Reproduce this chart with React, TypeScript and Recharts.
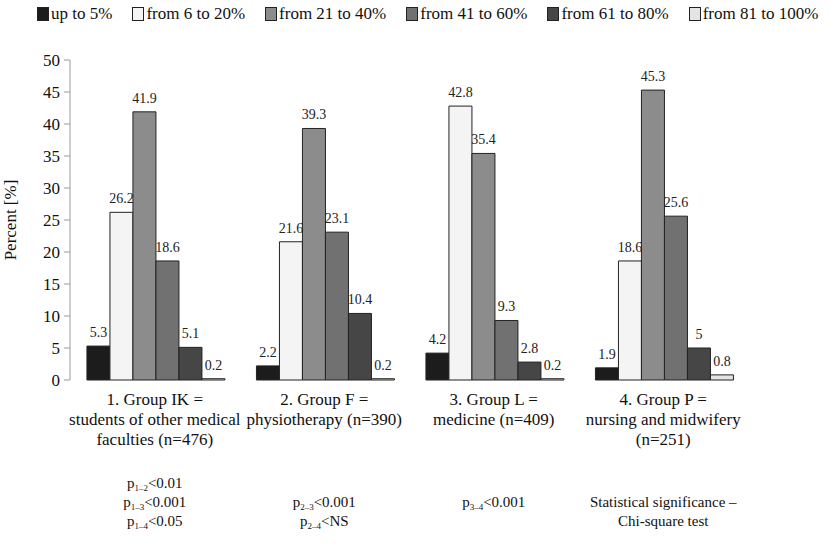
import React from "react";
import { BarChart, Bar, XAxis, YAxis, LabelList } from "recharts";

const groups = ["IK", "F", "L", "P"];

const upTo5 = [5.3, 2.2, 4.2, 1.9];
const from6to20 = [26.2, 21.6, 42.8, 18.6];
const from21to40 = [41.9, 39.3, 35.4, 45.3];
const from41to60 = [18.6, 23.1, 9.3, 25.6];
const from61to80 = [5.1, 10.4, 2.8, 5];
const from81to100 = [0.2, 0.2, 0.2, 0.8];

const yTicks = [0, 5, 10, 15, 20, 25, 30, 35, 40, 45, 50];

const groupLabels = [
  ["1. Group IK =", "students of other medical", "faculties (n=476)"],
  ["2. Group F =", "physiotherapy (n=390)"],
  ["3. Group L =", "medicine (n=409)"],
  ["4. Group P =", "nursing and midwifery", "(n=251)"],
];

type Note = { sub?: string; text: string } | null;

const pNotes: Note[][] = [
  [
    { sub: "1–2", text: "<0.01" },
    { sub: "1–3", text: "<0.001" },
    { sub: "1–4", text: "<0.05" },
  ],
  [null, { sub: "2–3", text: "<0.001" }, { sub: "2–4", text: "<NS" }],
  [null, { sub: "3–4", text: "<0.001" }, null],
  [null, { text: "Statistical significance –" }, { text: "Chi-square test" }],
];

const series = [
  { key: "s1", name: "up to 5%", values: upTo5, color: "#1c1c1c" },
  { key: "s2", name: "from 6 to 20%", values: from6to20, color: "#f4f4f4" },
  { key: "s3", name: "from 21 to 40%", values: from21to40, color: "#8c8c8c" },
  { key: "s4", name: "from 41 to 60%", values: from41to60, color: "#717171" },
  { key: "s5", name: "from 61 to 80%", values: from61to80, color: "#464646" },
  { key: "s6", name: "from 81 to 100%", values: from81to100, color: "#e4e4e4" },
];

const data = groups.map((g, i) => {
  const row: Record<string, number | string> = { group: g, idx: i };
  series.forEach((s) => {
    row[s.key] = s.values[i];
  });
  return row;
});

const FONT = '"Liberation Serif", "Times New Roman", Tinos, "DejaVu Serif"';

const globalCss = `
  .chart-wrap, .chart-wrap * { font-family: ${FONT} !important; }
`;

// two-part tick: group caption under the axis, significance notes further down
const GroupTick = (props: any) => {
  const { x, y, payload } = props;
  const i = payload.index;
  const lines = groupLabels[i] || [];
  const notes = pNotes[i] || [];
  return (
    <g>
      <text x={x} y={y} textAnchor="middle" fontSize={17} fill="#111" fontFamily={FONT}>
        {lines.map((l, k) => (
          <tspan key={k} x={x} y={y + 23 + k * 20}>
            {l}
          </tspan>
        ))}
      </text>
      {notes.map((n, k) =>
        n ? (
          <text
            key={"n" + k}
            x={x}
            y={y + 106 + k * 19}
            textAnchor="middle"
            fontSize={15}
            fill="#111"
            fontFamily={FONT}
          >
            {n.sub ? (
              <>
                <tspan>p</tspan>
                <tspan fontSize={9} dy={3}>
                  {n.sub}
                </tspan>
                <tspan dy={-3}>{n.text}</tspan>
              </>
            ) : (
              n.text
            )}
          </text>
        ) : null
      )}
    </g>
  );
};

const LegendRow = () => (
  <div
    style={{
      position: "absolute",
      left: 37,
      top: 4,
      display: "flex",
      fontSize: 17,
      color: "#111",
      whiteSpace: "nowrap",
    }}
  >
    {series.map((s) => (
      <div key={s.key} style={{ display: "flex", alignItems: "center", marginRight: 20 }}>
        <span
          style={{
            display: "inline-block",
            width: 10,
            height: 12,
            background: s.color,
            border: "1px solid #222",
            marginRight: 2,
          }}
        />
        <span>{s.name}</span>
      </div>
    ))}
  </div>
);

export default function App() {
  return (
    <div
      className="chart-wrap"
      style={{
        position: "absolute",
        left: 0,
        top: 0,
        width: 830,
        height: 545,
        background: "#fff",
      }}
    >
      <style>{globalCss}</style>
      <LegendRow />
      <BarChart
        width={830}
        height={545}
        data={data}
        margin={{ top: 60, right: 82, left: 0, bottom: 15 }}
        barCategoryGap="10%"
        barGap={0}
      >
        <XAxis
          xAxisId="edges"
          type="number"
          dataKey="idx"
          domain={[0, 4]}
          ticks={[0, 1, 2, 3, 4]}
          height={0}
          tick={false}
          tickSize={6}
          axisLine={{ stroke: "#999" }}
          tickLine={{ stroke: "#999" }}
        />
        <XAxis
          xAxisId="cat"
          dataKey="group"
          height={150}
          axisLine={false}
          tickLine={false}
          tickSize={0}
          interval={0}
          tick={<GroupTick />}
        />
        <YAxis
          width={70}
          domain={[0, 50]}
          ticks={yTicks}
          tickSize={6}
          tickMargin={4}
          axisLine={{ stroke: "#999" }}
          tickLine={{ stroke: "#999" }}
          tick={{ fontSize: 17, fill: "#111" }}
          label={{
            value: "Percent [%]",
            angle: -90,
            position: "insideLeft",
            offset: 10,
            style: { textAnchor: "middle", fontSize: 17, fill: "#111" },
          }}
        />
        {series.map((s) => (
          <Bar
            key={s.key}
            xAxisId="cat"
            dataKey={s.key}
            name={s.name}
            fill={s.color}
            stroke="#222"
            strokeWidth={1}
            isAnimationActive={false}
          >
            <LabelList dataKey={s.key} position="top" offset={9} style={{ fontSize: 14, fill: "#222" }} />
          </Bar>
        ))}
      </BarChart>
    </div>
  );
}
